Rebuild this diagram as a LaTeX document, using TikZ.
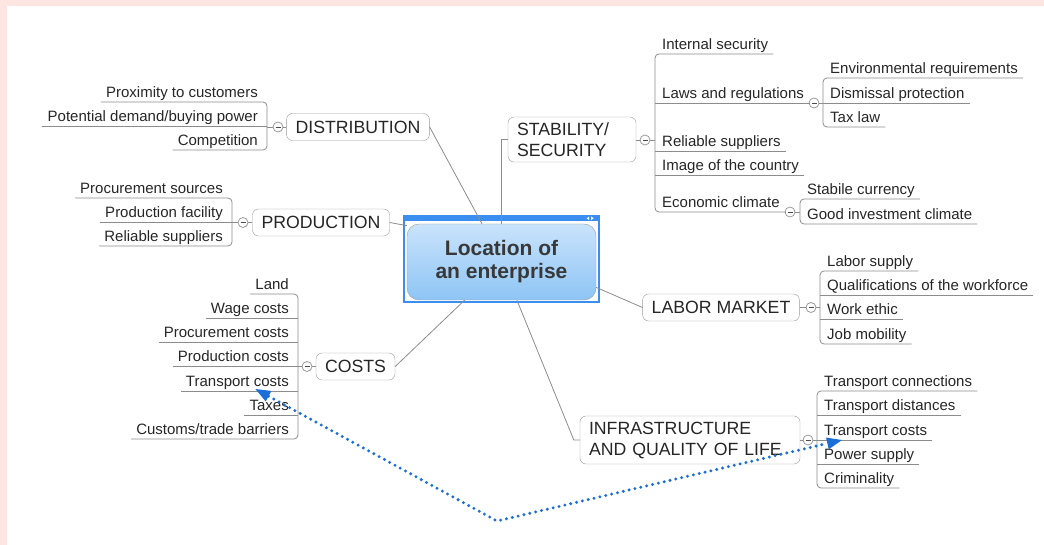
\documentclass[tikz,border=0pt]{standalone}
\usepackage{fontspec}
\setmainfont{Liberation Sans}
\usetikzlibrary{arrows.meta}
\definecolor{linegray}{HTML}{8C8C8C}
\definecolor{boxgray}{HTML}{9A9A9A}
\definecolor{selblue}{HTML}{3A8EEF}
\definecolor{relblue}{HTML}{1C6ED8}
\definecolor{pinkbg}{HTML}{FDE5E1}
\definecolor{topblue}{HTML}{C9E3FB}
\definecolor{botblue}{HTML}{8EC5F5}
\tikzset{
  branch/.style={draw=boxgray, fill=white, rounded corners=6pt, font=\fontsize{17.7}{21}\selectfont,
    align=left, inner xsep=9pt, inner ysep=3pt, minimum height=27pt, text=black!85},
  item/.style={font=\fontsize{15}{17}\selectfont, inner xsep=5pt, inner ysep=1pt,
    text height=11pt, text depth=3pt, text=black!85},
  uline/.style={draw=linegray, line width=0.8pt},
  fold/.style={circle, draw=boxgray, fill=white, line width=0.8pt, minimum size=10pt, inner sep=0pt,
    path picture={\draw[black!70] ([xshift=-2.5pt]path picture bounding box.center)
      -- ([xshift=2.5pt]path picture bounding box.center);}},
  rel/.style={relblue, line width=3.3pt, dash pattern=on 0pt off 6pt, line cap=round,
    >={Triangle[length=15pt, width=12pt, line width=0pt]}}
}
\begin{document}
\begin{tikzpicture}[x=1pt, y=-1pt]
\fill[pinkbg] (0,0) rectangle (1044,6);
\fill[pinkbg] (0,0) rectangle (7,545);
\useasboundingbox (0,0) rectangle (1044,545);

% central topic
\node[draw=boxgray, rounded corners=12pt, top color=topblue, bottom color=botblue,
  minimum width=189pt, minimum height=76pt, align=center, text=black!78,
  font=\fontsize{21}{23}\selectfont\bfseries] (loc) at (501.5,262) {Location of\\an enterprise};
\draw[selblue, line width=1.5pt] ([shift={(-3pt,8pt)}]loc.north west) rectangle ([shift={(3pt,-2pt)}]loc.south east);
\fill[selblue] ([shift={(-3pt,8pt)}]loc.north west) rectangle ([shift={(3pt,3pt)}]loc.north east);
\fill[white] ([shift={(-9.5pt,5.5pt)}]loc.north east) -- ++(2.5pt,1.8pt) -- ++(0,-3.6pt) -- cycle;
\fill[white] ([shift={(-2.5pt,5.5pt)}]loc.north east) -- ++(-2.5pt,1.8pt) -- ++(0,-3.6pt) -- cycle;

% main branches
\node[branch] (dist) at (358,127) {DISTRIBUTION};
\node[branch] (prod) at (321,222.5) {PRODUCTION};
\node[branch] (costs) at (355.5,366.5) {COSTS};
\node[branch, text width=110pt, minimum height=45pt] (stab) at (572,139.5) {STABILITY/\\SECURITY};
\node[branch] (labor) at (721,307.5) {LABOR MARKET};
\node[branch, text width=202pt, minimum height=48pt] (infra) at (690,440) {INFRASTRUCTURE\\AND QUALITY OF LIFE};

\draw[uline] (dist.east) -- (loc.117);
\draw[uline] (prod.east) -- (loc.159);
\draw[uline] (costs.east) -- (loc.226);
\draw[uline] (stab.west) -| (loc.north);
\draw[uline] (labor.west) -- (loc.-15);
\draw[uline] (loc.-68) -- ([xshift=-6pt]infra.west) -- (infra.west);

% distribution
\foreach \n/\t/\y in {1/Proximity to customers/102, 2/{Potential demand/buying power}/126, 3/Competition/150}
  \node[item, anchor=south east] (dist\n) at (263,\y) {\t};
\draw[uline, rounded corners=4pt] (dist1.south west) -- ([xshift=4pt]dist1.south east) -- ([xshift=4pt]dist3.south east) -- (dist3.south west);
\draw[uline] (dist2.south west) -- ([xshift=4pt]dist2.south east);
\node[fold] (distf) at (278,127) {};
\draw[uline] (distf.west) -- ++(-6,0);
\draw[uline] (distf) -- (dist);

% production
\foreach \n/\t/\y in {1/Procurement sources/198, 2/Production facility/222, 3/Reliable suppliers/246}
  \node[item, anchor=south east] (prod\n) at (228,\y) {\t};
\draw[uline, rounded corners=4pt] (prod1.south west) -- ([xshift=4pt]prod1.south east) -- ([xshift=4pt]prod3.south east) -- (prod3.south west);
\draw[uline] (prod2.south west) -- ([xshift=4pt]prod2.south east);
\node[fold] (prodf) at (243,222.5) {};
\draw[uline] (prodf.west) -- ++(-6,0);
\draw[uline] (prodf) -- (prod);

% costs
\foreach \n/\t/\y in {1/Land/294, 2/Wage costs/318, 3/Procurement costs/342, 4/Production costs/366,
    5/Transport costs/391, 6/Taxes/415, 7/Customs\slash trade barriers/439}
  \node[item, anchor=south east] (costs\n) at (294,\y) {\t};
\draw[uline, rounded corners=4pt] (costs1.south west) -- ([xshift=4pt]costs1.south east) -- ([xshift=4pt]costs7.south east) -- (costs7.south west);
\foreach \n in {2,...,6}
  \draw[uline] (costs\n.south west) -- ([xshift=4pt]costs\n.south east);
\node[fold] (costsf) at (307,366.5) {};
\draw[uline] (costsf.west) -- ++(-4,0);
\draw[uline] (costsf) -- (costs);

% stability / security
\foreach \n/\t/\y in {1/Internal security/54, 2/Laws and regulations/103, 3/Reliable suppliers/151,
    4/Image of the country/175, 5/Economic climate/212}
  \node[item, anchor=south west] (stab\n) at (657,\y) {\t};
\draw[uline, rounded corners=4pt] (stab1.south east) -- ([xshift=-2pt]stab1.south west) -- ([xshift=-2pt]stab5.south west) -- (stab5.south east);
\foreach \n in {2,3,4}
  \draw[uline] ([xshift=-2pt]stab\n.south west) -- (stab\n.south east);
\node[fold] (stabf) at (645,140) {};
\draw[uline] (stabf.east) -- ++(5,0);
\draw[uline] (stabf) -- (stab.east |- stabf);

\foreach \n/\t/\y in {1/Environmental requirements/78, 2/Dismissal protection/103, 3/Tax law/127}
  \node[item, anchor=south west] (law\n) at (825,\y) {\t};
\draw[uline, rounded corners=4pt] (law1.south east) -- ([xshift=-2pt]law1.south west) -- ([xshift=-2pt]law3.south west) -- (law3.south east);
\draw[uline] ([xshift=-2pt]law2.south west) -- (law2.south east);
\node[fold] (lawf) at (814,103) {};
\draw[uline] (lawf.east) -- ++(4,0);
\draw[uline] (stab2.south east) -- (lawf.west);

\foreach \n/\t/\y in {1/Stabile currency/199, 2/Good investment climate/224}
  \node[item, anchor=south west] (eco\n) at (802,\y) {\t};
\draw[uline, rounded corners=4pt] (eco1.south east) -- ([xshift=-2pt]eco1.south west) -- ([xshift=-2pt]eco2.south west) -- (eco2.south east);
\node[fold] (ecof) at (790,212) {};
\draw[uline] (ecof.east) -- ++(5,0);
\draw[uline] (stab5.south east) -- (ecof.west);

% labor market
\foreach \n/\t/\y in {1/Labor supply/271, 2/Qualifications of the workforce/295, 3/Work ethic/319, 4/Job mobility/344}
  \node[item, anchor=south west] (labor\n) at (822,\y) {\t};
\draw[uline, rounded corners=4pt] (labor1.south east) -- ([xshift=-2pt]labor1.south west) -- ([xshift=-2pt]labor4.south west) -- (labor4.south east);
\foreach \n in {2,3}
  \draw[uline] ([xshift=-2pt]labor\n.south west) -- (labor\n.south east);
\node[fold] (laborf) at (811,307.5) {};
\draw[uline] (laborf.east) -- ++(4,0);
\draw[uline] (laborf) -- (labor);

% infrastructure
\foreach \n/\t/\y in {1/Transport connections/391, 2/Transport distances/415, 3/Transport costs/440,
    4/Power supply/464, 5/Criminality/488}
  \node[item, anchor=south west] (infra\n) at (819,\y) {\t};
\draw[uline, rounded corners=4pt] (infra1.south east) -- ([xshift=-2pt]infra1.south west) -- ([xshift=-2pt]infra5.south west) -- (infra5.south east);
\foreach \n in {2,3,4}
  \draw[uline] ([xshift=-2pt]infra\n.south west) -- (infra\n.south east);
\node[fold] (infraf) at (808,440) {};
\draw[uline] (infraf.east) -- ++(4,0);
\draw[uline] (infraf) -- (infra);

% relationship
\coordinate (relbend) at (497,521);
\draw[rel, <->] ([shift={(18pt,2pt)}]costs5.south) -- (relbend) -- ([xshift=23pt]infra3.south west);
\end{tikzpicture}
\end{document}
